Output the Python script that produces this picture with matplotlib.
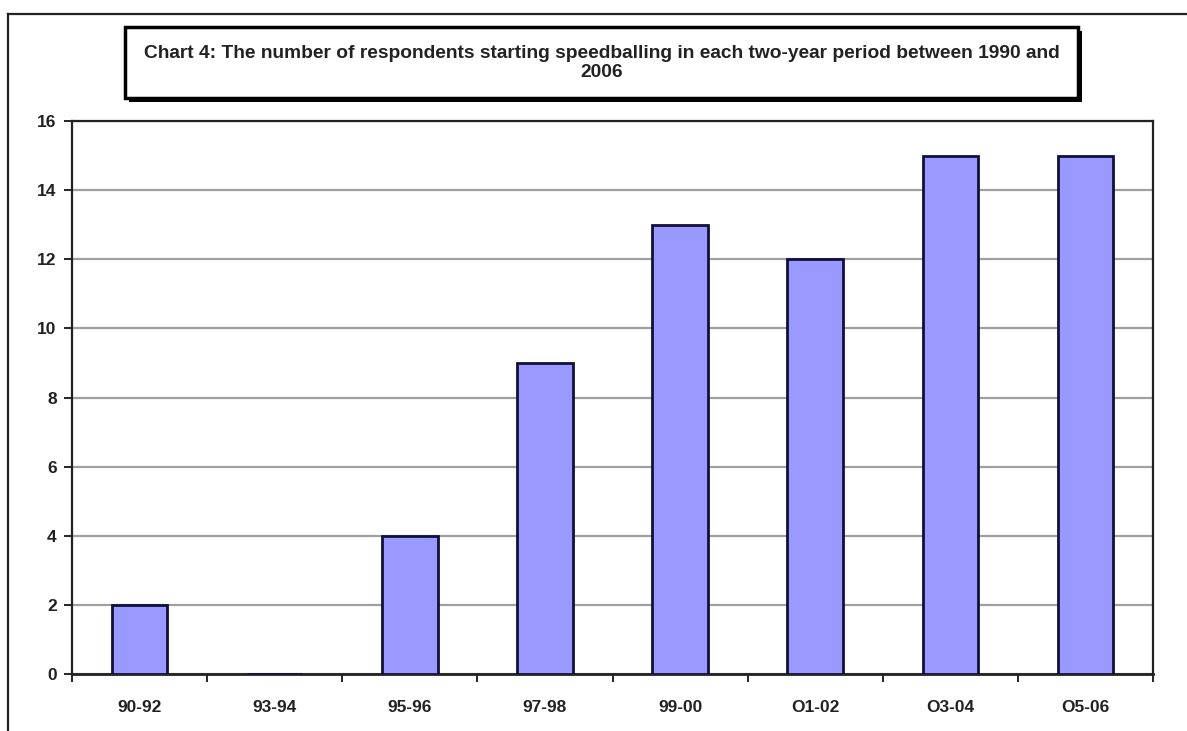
import matplotlib.pyplot as plt
from matplotlib.lines import Line2D
from matplotlib.patches import Rectangle

periods = ['90-92', '93-94', '95-96', '97-98', '99-00', 'O1-02', 'O3-04', 'O5-06']
respondents = [2, 0, 4, 9, 13, 12, 15, 15]
y_ticks = [0, 2, 4, 6, 8, 10, 12, 14, 16]

plt.rcParams['font.family'] = ['Liberation Sans', 'DejaVu Sans']

W, H = 1187, 731
fig = plt.figure(figsize=(W / 100, H / 100), dpi=100)

# outer chart frame, open to the right and bottom
fig.add_artist(Line2D([8 / W, 1.0], [1 - 14 / H, 1 - 14 / H], color='#222222', lw=1.6))
fig.add_artist(Line2D([8 / W, 8 / W], [1 - 14 / H, 0.0], color='#222222', lw=1.6))

ax = fig.add_axes([72 / W, 1 - 674 / H, (1153 - 72) / W, (674 - 121) / H])

x = range(len(periods))
ax.bar(x, respondents, width=0.41, color='#9999FF', edgecolor='#10103a', linewidth=2.0, zorder=3)

ax.set_xlim(-0.5, len(periods) - 0.5)
ax.set_ylim(0, 16)
ax.set_yticks(y_ticks)
ax.set_yticklabels([str(v) for v in y_ticks], fontsize=12.5, fontweight='bold', color='#222222')
ax.set_xticks(list(x))
ax.set_xticklabels(periods, fontsize=12.5, fontweight='bold', color='#222222')
ax.tick_params(axis='x', length=0, pad=19)
ax.tick_params(axis='y', length=6, width=1.2, direction='out', pad=5)

# category separators on the x axis
ax.set_xticks([i - 0.5 for i in range(len(periods) + 1)], minor=True)
ax.tick_params(axis='x', which='minor', length=6, width=1.2, direction='out')

ax.grid(axis='y', color='#a0a0a0', lw=1.6, zorder=0)
for s in ax.spines.values():
    s.set_color('#222222')
    s.set_linewidth(1.6)
ax.spines['bottom'].set_linewidth(2.0)

# title in a box with a drop shadow
bx0, by0, bx1, by1 = 125, 27, 1078, 98
fig.add_artist(Rectangle((bx0 / W + 4 / W, 1 - (by1 + 4) / H), (bx1 - bx0) / W, (by1 - by0) / H,
                         facecolor='black', edgecolor='none'))
fig.add_artist(Rectangle((bx0 / W, 1 - by1 / H), (bx1 - bx0) / W, (by1 - by0) / H,
                         facecolor='white', edgecolor='black', lw=2.5))
fig.text((bx0 + bx1) / 2 / W, 1 - 63 / H,
         'Chart 4: The number of respondents starting speedballing in each two-year period between 1990 and\n2006',
         ha='center', va='center', fontsize=13.8, fontweight='bold', linespacing=1.15, color='#222222')

fig.savefig('out.png', dpi=100)
